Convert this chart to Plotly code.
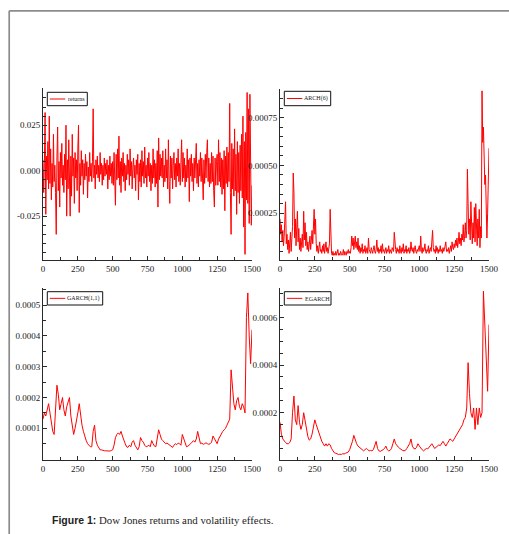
import numpy as np
import plotly.graph_objects as go

W, H = 509, 534

# ---------------------------------------------------------------------------
# Series (observation index on x)
# ---------------------------------------------------------------------------
# Daily returns, one value every 5 observations
ret_step = 5
returns = [
    .006, -.012, .004, .032, -.024, .008, -.005, .016, -.010, .030,
    -.007, .012, -.016, .004, -.009, .020, -.006, .003, -.012, -.035,
    .007, .024, -.011, .005, -.020, .010, -.004, .015, -.008, .003,
    -.012, .009, -.005, .025, -.025, .006, -.010, .017, -.004, -.025,
    .008, -.014, .020, -.003, .007, -.018, .010, -.004, .006, -.011,
    .012, .025, -.023, .004, -.008, .011, -.003, .006, -.013, .004,
    -.005, .009, -.003, .005, -.015, .002, -.006, .010, -.003, .004,
    -.006, .005, .034, -.004, .003, -.010, .006, -.002, .008, -.004,
    .003, -.006, .010, -.002, .004, -.008, .003, -.005, .007, -.003,
    .004, -.002, .006, -.010, .003, -.005, .008, -.003, .004, -.007,
    .005, -.008, .010, -.004, -.019, .009, -.005, .012, -.004, .019,
    -.008, .005, -.012, .007, -.003, .010, -.006, .004, -.011, .003,
    -.005, .009, -.002, .006, -.008, .012, -.003, .005, -.010, .002,
    .007, -.004, .003, -.011, .006, -.002, .009, -.016, .004, -.006,
    .006, -.009, .011, -.003, .005, -.007, .013, -.004, .003, -.009,
    .007, -.003, .010, -.006, .004, -.011, .003, -.007, .012, -.004,
    .006, -.009, .004, -.007, .011, -.020, .018, -.005, .009, -.003,
    .007, -.004, .011, -.009, .003, -.006, .012, -.004, .006, -.010,
    .017, -.006, -.018, .008, -.004, .007, -.010, .003, .010, -.005,
    .004, -.009, .007, -.003, .012, -.006, .004, -.008, .009, .017,
    -.006, .010, -.004, .007, -.009, .003, -.006, .012, -.004, .006,
    -.017, .007, -.003, .009, -.006, .004, -.011, .007, -.004, .006,
    .015, -.007, .004, -.009, .006, -.003, .010, -.006, .007, -.004,
    -.016, .006, -.007, .009, -.004, .010, .017, -.006, .007, -.009,
    .004, -.007, .010, -.006, .008, -.011, -.020, .007, -.008, .005,
    .009, -.008, .017, -.006, .010, -.009, .007, -.013, .006, -.010,
    .011, -.022, .008, -.007, .013, -.009, .010, -.006, .037, -.012,
    -.035, .015, -.010, .012, -.014, .023, -.011, .009, -.024, .016,
    -.012, .010, -.018, .014, -.011, .020, -.015, .030, -.031, .016,
    -.046, .021, -.016, .043, -.018, .034, -.029, .042, -.014, -.030,
    -.008,
]

# ARCH(6) conditional variance, one value every 5 observations
arch_step = 5
arch6 = [
    22e-5, 14e-5, 19e-5, 10e-5, 16e-5, 8e-5, 13e-5, 21e-5, 31e-5, 9e-5,
    14e-5, 6e-5, 11e-5, 4e-5, 8e-5, 15e-5, 5e-5, 10e-5, 18e-5, 46e-5,
    36e-5, 12e-5, 22e-5, 8e-5, 14e-5, 26e-5, 10e-5, 17e-5, 6e-5, 12e-5,
    5e-5, 9e-5, 14e-5, 7e-5, 26e-5, 11e-5, 20e-5, 8e-5, 15e-5, 6e-5,
    10e-5, 5e-5, 8e-5, 13e-5, 6e-5, 11e-5, 16e-5, 9e-5, 20e-5, 27e-5,
    14e-5, 22e-5, 9e-5, 5e-5, 8e-5, 4e-5, 7e-5, 10e-5, 5e-5, 6e-5,
    4e-5, 8e-5, 5e-5, 9e-5, 4e-5, 6e-5, 10e-5, 5e-5, 7e-5, 4e-5,
    6e-5, 9e-5, 27e-5, 8e-5, 4e-5, 3e-5, 5e-5, 3e-5, 4e-5, 3e-5,
    5e-5, 3e-5, 4e-5, 6e-5, 3e-5, 4e-5, 3e-5, 5e-5, 4e-5, 3e-5,
    4e-5, 6e-5, 3e-5, 5e-5, 4e-5, 3e-5, 5e-5, 4e-5, 6e-5, 4e-5,
    5e-5, 4e-5, 7e-5, 13e-5, 8e-5, 12e-5, 6e-5, 11e-5, 13e-5, 7e-5,
    10e-5, 6e-5, 12e-5, 5e-5, 8e-5, 4e-5, 7e-5, 5e-5, 9e-5, 4e-5,
    6e-5, 5e-5, 8e-5, 4e-5, 6e-5, 7e-5, 4e-5, 12e-5, 6e-5, 5e-5,
    4e-5, 7e-5, 5e-5, 4e-5, 6e-5, 8e-5, 5e-5, 4e-5, 6e-5, 11e-5,
    5e-5, 7e-5, 4e-5, 6e-5, 5e-5, 8e-5, 4e-5, 9e-5, 5e-5, 6e-5,
    4e-5, 5e-5, 7e-5, 4e-5, 6e-5, 5e-5, 8e-5, 4e-5, 6e-5, 5e-5,
    4e-5, 7e-5, 6e-5, 5e-5, 15e-5, 8e-5, 6e-5, 4e-5, 7e-5, 5e-5,
    6e-5, 4e-5, 8e-5, 5e-5, 4e-5, 7e-5, 5e-5, 9e-5, 4e-5, 6e-5,
    5e-5, 8e-5, 4e-5, 6e-5, 5e-5, 7e-5, 4e-5, 5e-5, 10e-5, 6e-5,
    5e-5, 7e-5, 4e-5, 6e-5, 8e-5, 5e-5, 4e-5, 6e-5, 5e-5, 7e-5,
    8e-5, 5e-5, 13e-5, 6e-5, 4e-5, 7e-5, 5e-5, 6e-5, 9e-5, 5e-5,
    4e-5, 6e-5, 5e-5, 8e-5, 4e-5, 6e-5, 7e-5, 5e-5, 9e-5, 16e-5,
    7e-5, 5e-5, 6e-5, 4e-5, 8e-5, 5e-5, 7e-5, 4e-5, 6e-5, 5e-5,
    8e-5, 5e-5, 6e-5, 4e-5, 7e-5, 5e-5, 6e-5, 8e-5, 10e-5, 5e-5,
    6e-5, 5e-5, 7e-5, 4e-5, 6e-5, 8e-5, 5e-5, 10e-5, 7e-5, 6e-5,
    9e-5, 7e-5, 11e-5, 8e-5, 12e-5, 7e-5, 10e-5, 15e-5, 9e-5, 12e-5,
    8e-5, 14e-5, 11e-5, 19e-5, 10e-5, 13e-5, 20e-5, 12e-5, 16e-5, 48e-5,
    30e-5, 14e-5, 22e-5, 11e-5, 31e-5, 15e-5, 9e-5, 20e-5, 12e-5, 28e-5,
    10e-5, 30e-5, 14e-5, 8e-5, 22e-5, 12e-5, 27e-5, 7e-5, 18e-5, 12e-5,
    89e-5, 62e-5, 70e-5, 50e-5, 40e-5, 45e-5, 15e-5, 12e-5, 25e-5, 36e-5,
    59e-5,
]

# GARCH(1,1) and EGARCH conditional variances, one value every 10 observations
vol_step = 10
garch11 = [
    13e-5, 15e-5, 14e-5, 16e-5, 18e-5, 15e-5, 12e-5, 9e-5, 8e-5, 16e-5,
    24e-5, 21e-5, 16e-5, 18e-5, 20e-5, 16e-5, 14e-5, 17e-5, 19e-5, 20e-5,
    14e-5, 11e-5, 8e-5, 10e-5, 12e-5, 15e-5, 18e-5, 14e-5, 11e-5, 9e-5,
    7e-5, 6e-5, 5e-5, 4.5e-5, 4e-5, 4e-5, 9e-5, 11e-5, 6e-5, 4.5e-5,
    3.5e-5, 3e-5, 3e-5, 2.8e-5, 2.7e-5, 2.7e-5, 2.6e-5, 2.7e-5, 2.6e-5, 2.8e-5,
    3e-5, 4.5e-5, 7e-5, 8e-5, 8.5e-5, 8e-5, 9e-5, 7.5e-5, 6e-5, 5e-5,
    4e-5, 3.8e-5, 4.5e-5, 4e-5, 5.5e-5, 6e-5, 4.5e-5, 3.5e-5, 3e-5, 4e-5,
    7e-5, 6e-5, 5.5e-5, 4.5e-5, 4e-5, 4.2e-5, 4.5e-5, 4e-5, 6e-5, 5e-5,
    4.2e-5, 4e-5, 6.5e-5, 9.5e-5, 8e-5, 6.5e-5, 6e-5, 5.5e-5, 5e-5, 5.2e-5,
    4.8e-5, 4.5e-5, 4e-5, 3.8e-5, 4.5e-5, 5e-5, 4.7e-5, 5.2e-5, 5e-5, 4.5e-5,
    8e-5, 6.5e-5, 5e-5, 4e-5, 4.2e-5, 4.5e-5, 5e-5, 5.5e-5, 6e-5, 5.5e-5,
    6.5e-5, 9e-5, 6.5e-5, 5e-5, 5.2e-5, 4.8e-5, 5e-5, 5.3e-5, 5e-5, 4.8e-5,
    5e-5, 5.5e-5, 7.5e-5, 6.5e-5, 5.5e-5, 5e-5, 6.5e-5, 7.5e-5, 8e-5, 9e-5,
    9.5e-5, 10e-5, 11e-5, 12e-5, 13e-5, 29e-5, 22e-5, 18e-5, 16e-5, 19e-5,
    20e-5, 17e-5, 16e-5, 18e-5, 17e-5, 15e-5, 46e-5, 54e-5, 40e-5, 31e-5,
    42e-5,
]
egarch = [
    16e-5, 11e-5, 9e-5, 8e-5, 7.5e-5, 7e-5, 7e-5, 7.5e-5, 9e-5, 20e-5,
    27e-5, 17e-5, 15e-5, 23e-5, 16e-5, 13e-5, 15e-5, 20e-5, 16e-5, 13e-5,
    10e-5, 8.5e-5, 9e-5, 11e-5, 14e-5, 17e-5, 15e-5, 13e-5, 11e-5, 9e-5,
    8e-5, 7e-5, 6e-5, 7e-5, 6e-5, 7e-5, 6.5e-5, 5e-5, 4e-5, 3.2e-5,
    3e-5, 2.7e-5, 2.5e-5, 2.6e-5, 2.5e-5, 2.8e-5, 2.7e-5, 3e-5, 3.2e-5, 3.5e-5,
    4.5e-5, 6e-5, 8e-5, 10.5e-5, 8.5e-5, 7e-5, 6e-5, 5.5e-5, 5e-5, 4.5e-5,
    4e-5, 4.5e-5, 5e-5, 4.5e-5, 4e-5, 4.2e-5, 4e-5, 4.5e-5, 6e-5, 8e-5,
    5e-5, 4e-5, 3.8e-5, 4e-5, 4.5e-5, 5e-5, 6e-5, 4.5e-5, 4e-5, 4.2e-5,
    5e-5, 7e-5, 9e-5, 7e-5, 6e-5, 5.5e-5, 5e-5, 4.5e-5, 4.2e-5, 4e-5,
    4.2e-5, 5e-5, 6e-5, 7e-5, 9e-5, 6e-5, 5e-5, 4.8e-5, 5.5e-5, 7e-5,
    6e-5, 5e-5, 4.5e-5, 4e-5, 4.5e-5, 5e-5, 4.8e-5, 5.5e-5, 6e-5, 7e-5,
    6e-5, 5e-5, 5.5e-5, 6e-5, 6.5e-5, 6.2e-5, 7e-5, 8e-5, 7e-5, 6e-5,
    7e-5, 8e-5, 9e-5, 8.5e-5, 8e-5, 9e-5, 10e-5, 10.5e-5, 12e-5, 13e-5,
    14e-5, 15e-5, 17e-5, 18e-5, 22e-5, 41e-5, 28e-5, 20e-5, 18e-5, 22e-5,
    13e-5, 22e-5, 15e-5, 22e-5, 18e-5, 20e-5, 71e-5, 55e-5, 37e-5, 29e-5,
    57e-5,
]

# Axis ticks
x_ticks = [0, 250, 500, 750, 1000, 1250, 1500]
x_labels = ["0", "250", "500", "750", "1000", "1250", "1500"]
ret_ticks = [-0.025, 0.0, 0.025]
ret_labels = ["-0.025", "0.000", "0.025"]
arch_ticks = [0.00025, 0.00050, 0.00075]
arch_labels = ["0.00025", "0.00050", "0.00075"]
garch_ticks = [0.0001, 0.0002, 0.0003, 0.0004, 0.0005]
garch_labels = ["0.0001", "0.0002", "0.0003", "0.0004", "0.0005"]
egarch_ticks = [0.0002, 0.0004, 0.0006]
egarch_labels = ["0.0002", "0.0004", "0.0006"]


# ---------------------------------------------------------------------------
# Layout helpers (pixel -> paper coordinates)
# ---------------------------------------------------------------------------
def px(x):
    return x / W


def py(y):
    return 1 - y / H


SERIF = "Liberation Serif, Times New Roman, serif"
AXIS_COLOR = "#2a2a2a"
TEXT_COLOR = "#222222"

panels = [
    dict(name="returns", x=np.arange(len(returns)) * ret_step, y=returns,
         box=(43, 252, 88.3, 260), rng=[-0.0491, 0.0453],
         tv=ret_ticks, tt=ret_labels, minor=0.005,
         leg=(47.3, 87.3, 92.3, 105.7), leg_text=66.5),
    dict(name="ARCH(6)", x=np.arange(len(arch6)) * arch_step, y=arch6,
         box=(280, 489, 89.3, 260), rng=[0.0000052, 0.000898],
         tv=arch_ticks, tt=arch_labels, minor=0.00005,
         leg=(284.3, 330.7, 91.3, 105.7), leg_text=303.0),
    dict(name="GARCH(1,1)", x=np.arange(len(garch11)) * vol_step, y=garch11,
         box=(43, 252, 288.3, 460), rng=[-0.000003, 0.000555],
         tv=garch_ticks, tt=garch_labels, minor=0.00005,
         leg=(47.3, 102.7, 291.7, 305.0), leg_text=66.0),
    dict(name="EGARCH", x=np.arange(len(egarch)) * vol_step, y=egarch,
         box=(280, 489, 288.3, 460), rng=[0.0000017, 0.000722],
         tv=egarch_ticks, tt=egarch_labels, minor=0.00005,
         leg=(284.3, 331.0, 291.7, 305.0), leg_text=303.5),
]

fig = go.Figure()
layout = dict(
    width=W, height=H,
    margin=dict(l=0, r=0, t=0, b=0),
    paper_bgcolor="white", plot_bgcolor="white",
    template="none", showlegend=False,
)
shapes = []
annotations = []

for i, p in enumerate(panels):
    sfx = "" if i == 0 else str(i + 1)
    fig.add_trace(go.Scatter(
        x=p["x"], y=p["y"], mode="lines",
        line=dict(color="#ff0000", width=1),
        xaxis="x" + sfx, yaxis="y" + sfx,
        hoverinfo="skip", showlegend=False,
    ))
    x0, x1, ytop, ybot = p["box"]
    tickfont = dict(family=SERIF, size=9, color=TEXT_COLOR)
    layout["xaxis" + sfx] = dict(
        domain=[px(x0), px(x1)], range=[0, 1500], anchor="y" + sfx,
        tickmode="array", tickvals=x_ticks, ticktext=x_labels,
        ticks="inside", ticklen=4, tickwidth=1, tickcolor=AXIS_COLOR,
        minor=dict(tickmode="linear", tick0=0, dtick=125, ticks="inside",
                   ticklen=3, tickwidth=1, tickcolor=AXIS_COLOR, showgrid=False),
        showline=True, linecolor=AXIS_COLOR, linewidth=1,
        showgrid=False, zeroline=False, tickfont=tickfont, automargin=False,
    )
    layout["yaxis" + sfx] = dict(
        domain=[py(ybot), py(ytop)], range=p["rng"], anchor="x" + sfx,
        tickmode="array", tickvals=p["tv"], ticktext=p["tt"],
        ticks="inside", ticklen=4, tickwidth=1, tickcolor=AXIS_COLOR,
        minor=dict(tickmode="linear", tick0=0, dtick=p["minor"], ticks="inside",
                   ticklen=3, tickwidth=1, tickcolor=AXIS_COLOR, showgrid=False),
        showline=True, linecolor=AXIS_COLOR, linewidth=1,
        showgrid=False, zeroline=False, tickfont=tickfont, automargin=False,
    )

    # legend box with a short red sample line and the series name
    lx0, lx1, ly0, ly1 = p["leg"]
    ymid = (ly0 + ly1) / 2
    shapes.append(dict(type="rect", xref="paper", yref="paper",
                       x0=px(lx0), x1=px(lx1), y0=py(ly1), y1=py(ly0),
                       line=dict(color="#111111", width=1), fillcolor="white",
                       layer="above"))
    shapes.append(dict(type="line", xref="paper", yref="paper",
                       x0=px(lx0 + 2.5), x1=px(lx0 + 18), y0=py(ymid), y1=py(ymid),
                       line=dict(color="#ff0000", width=1), layer="above"))
    annotations.append(dict(xref="paper", yref="paper",
                            x=px(p["leg_text"]), y=py(ymid + 0.3),
                            xanchor="left", yanchor="middle", showarrow=False,
                            borderpad=0, text=p["name"],
                            font=dict(family=SERIF, size=6.0, color=TEXT_COLOR)))

# page frame (left and top rules)
shapes.append(dict(type="line", xref="paper", yref="paper",
                   x0=px(9.2), x1=px(9.2), y0=py(10.8), y1=0,
                   line=dict(color="#8c8c8c", width=1.7)))
shapes.append(dict(type="line", xref="paper", yref="paper",
                   x0=px(9.2), x1=1, y0=py(10.8), y1=py(10.8),
                   line=dict(color="#8c8c8c", width=1.7)))

# caption
caption = ('<span style="font-family:Liberation Sans, Arial, sans-serif;'
           'font-weight:bold;font-size:10.5px">Figure 1:</span> '
           'Dow Jones returns and volatility effects.')
annotations.append(dict(xref="paper", yref="paper", x=px(50), y=py(520),
                        xanchor="left", yanchor="middle", showarrow=False,
                        text=caption,
                        font=dict(family=SERIF, size=10.8, color=TEXT_COLOR)))

layout["shapes"] = shapes
layout["annotations"] = annotations
fig.update_layout(**layout)

fig.write_html("out.html")
